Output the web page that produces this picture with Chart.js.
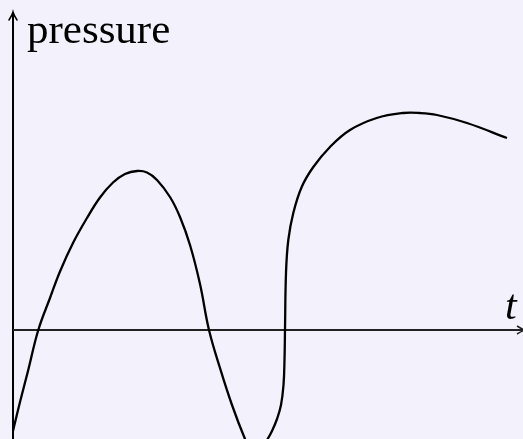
<!DOCTYPE html>
<html>
<head>
<meta charset="utf-8">
<script src="https://cdn.jsdelivr.net/npm/chart.js@4/dist/chart.umd.min.js"></script>
<style>
  html, body { margin: 0; padding: 0; background: #f3f2fc; }
  #wrap { width: 523px; height: 439px; position: relative; }
</style>
</head>
<body>
<div id="wrap"><canvas id="c" width="523" height="439"></canvas></div>
<script>
// Values (t in arbitrary units, pressure in arbitrary units)
const tValues = [0, 0.7, 1.5, 2.53, 3.7, 4.7, 6.0, 7.4, 8.7, 10.0, 11.2, 12.4, 13.4, 14.4, 15.7, 16.7, 17.7, 18.7, 19.6, 20.7, 21.9, 23.2, 23.7, 24.3, 24.9, 25.4, 25.9, 26.4, 26.8, 27.05, 27.15, 27.2, 27.3, 27.53, 28.03, 28.87, 30.03, 31.7, 33.7, 36.37, 39.0, 40.7, 42.4, 45.4, 49.4];
const pressureValues = [-10.1, -7.2, -4.1, 0, 3.2, 5.85, 8.7, 11.2, 13.25, 14.75, 15.6, 15.9, 15.75, 15.0, 13.3, 11.3, 8.5, 4.6, 0, -3.8, -7.5, -10.9, -11.8, -12.0, -11.7, -11.0, -10.1, -8.9, -7.5, -5.5, -3.0, 0, 5.7, 9.0, 11.7, 14.3, 16.3, 18.3, 20.0, 21.2, 21.7, 21.7, 21.5, 20.7, 19.2];
const axisLabels = { y: "pressure", x: "t" };
const xRange = [-1.3, 51.0];
const yRange = [-10.9, 33.0];
const yAxisTop = 31.8;

const points = tValues.map((t, i) => ({ x: t, y: pressureValues[i] }));

const axesPlugin = {
  id: 'axesPlugin',
  beforeDatasetsDraw(chart) {
    const ctx = chart.ctx;
    const xs = chart.scales.x, ys = chart.scales.y;
    const x0 = xs.getPixelForValue(0);
    const y0 = ys.getPixelForValue(0);
    const yTop = ys.getPixelForValue(yAxisTop);
    const yBot = ys.getPixelForValue(yRange[0]);
    const xRight = xs.getPixelForValue(xRange[1]) + 2;
    ctx.save();
    ctx.strokeStyle = '#000';
    ctx.lineWidth = 2;
    ctx.lineCap = 'butt';
    // y axis
    ctx.beginPath();
    ctx.moveTo(x0, yBot);
    ctx.lineTo(x0, yTop + 1);
    ctx.stroke();
    // y arrow head
    ctx.lineWidth = 1.5;
    ctx.lineCap = 'round';
    ctx.beginPath();
    ctx.moveTo(x0 - 4, yTop + 8);
    ctx.quadraticCurveTo(x0 - 0.8, yTop + 3, x0, yTop);
    ctx.quadraticCurveTo(x0 + 0.8, yTop + 3, x0 + 4, yTop + 8);
    ctx.stroke();
    // x axis
    ctx.lineWidth = 1.8;
    ctx.lineCap = 'butt';
    ctx.strokeStyle = '#222';
    ctx.beginPath();
    ctx.moveTo(x0, y0);
    ctx.lineTo(xRight, y0);
    ctx.stroke();
    // x arrow head
    ctx.lineWidth = 1.5;
    ctx.beginPath();
    ctx.moveTo(xRight - 8, y0 - 4);
    ctx.quadraticCurveTo(xRight - 3, y0 - 0.8, xRight, y0);
    ctx.quadraticCurveTo(xRight - 3, y0 + 0.8, xRight - 8, y0 + 4);
    ctx.stroke();
    // labels
    ctx.fillStyle = '#000';
    ctx.textBaseline = 'alphabetic';
    ctx.textAlign = 'left';
    ctx.font = '43px "Liberation Serif", serif';
    ctx.fillText(axisLabels.y, x0 + 14, 43);
    ctx.font = 'italic 42px "Liberation Serif", serif';
    ctx.fillText(axisLabels.x, xs.getPixelForValue(49.2), y0 - 11);
    ctx.restore();
  }
};

new Chart(document.getElementById('c'), {
  type: 'line',
  data: {
    datasets: [{
      data: points,
      borderColor: '#000',
      borderWidth: 2.3,
      pointRadius: 0,
      fill: false,
      tension: 0.4
    }]
  },
  options: {
    responsive: false,
    animation: false,
    layout: { padding: 0 },
    elements: { line: { capBezierPoints: false } },
    plugins: { legend: { display: false }, tooltip: { enabled: false } },
    scales: {
      x: { type: 'linear', display: false, min: xRange[0], max: xRange[1] },
      y: { type: 'linear', display: false, min: yRange[0], max: yRange[1] }
    }
  },
  plugins: [axesPlugin]
});
</script>
</body>
</html>
